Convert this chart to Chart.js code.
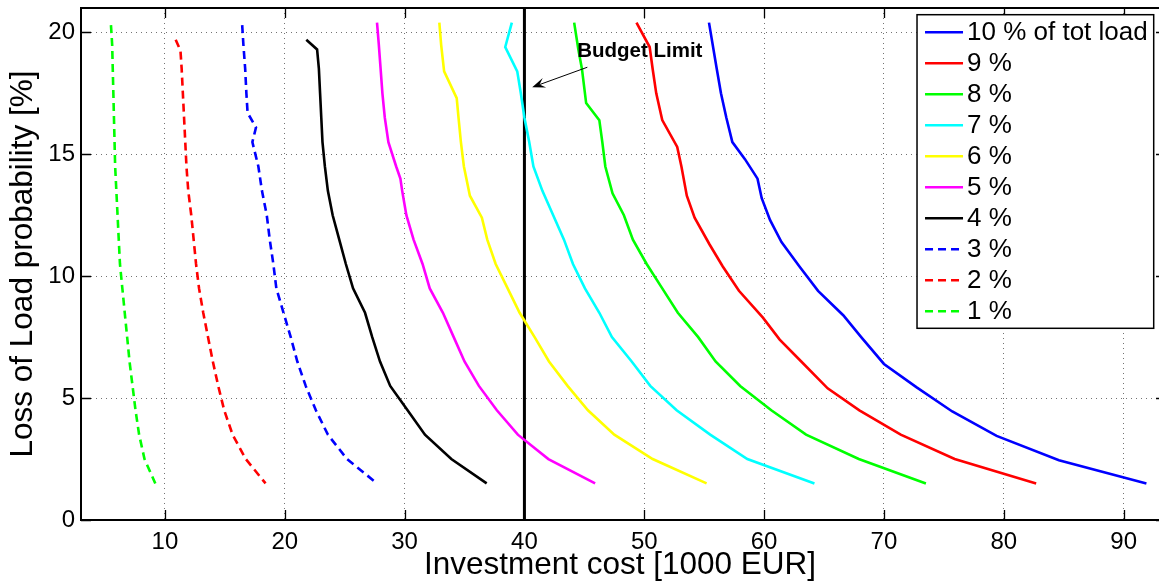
<!DOCTYPE html>
<html>
<head>
<meta charset="utf-8">
<script src="https://cdn.jsdelivr.net/npm/chart.js@4.4.0/dist/chart.umd.min.js"></script>
<style>
html,body{margin:0;padding:0;background:#fff;}
#wrap{width:1159px;height:584px;position:relative;overflow:hidden;}
</style>
</head>
<body>
<div id="wrap"><canvas id="c" width="1159" height="584"></canvas></div>
<script>
// ---------- data ----------
const seriesLabels = ['10 % of tot load','9 %','8 %','7 %','6 %','5 %','4 %','3 %','2 %','1 %'];
const seriesColors = ['#0000ff','#ff0000','#00ff00','#00ffff','#ffff00','#ff00ff','#000000','#0000ff','#ff0000','#00ff00'];
const seriesDashed = [false,false,false,false,false,false,false,true,true,true];

const cost10 = [55.4,56.05,56.4,56.85,57.35,58.4,59.45,59.8,60.5,61.45,62.95,64.5,66.6,68.1,70.0,72.7,75.7,79.4,84.6,91.9];
const lolp10 = [20.4,18.5,17.5,16.5,15.5,14.8,14.0,13.2,12.3,11.4,10.4,9.4,8.4,7.5,6.4,5.45,4.45,3.45,2.45,1.5];
const cost9 = [49.35,50.45,50.7,51.0,51.5,52.75,53.1,53.55,54.2,55.45,56.55,57.9,59.9,61.3,63.1,65.3,67.95,71.4,75.9,82.7];
const lolp9 = [20.4,19.4,18.5,17.5,16.4,15.3,14.5,13.3,12.4,11.3,10.4,9.4,8.3,7.4,6.5,5.4,4.5,3.5,2.5,1.5];
const cost8 = [44.15,44.5,44.8,45.15,46.25,46.5,46.75,47.35,48.3,49.05,50.2,51.5,52.8,54.5,55.95,58.0,60.6,63.5,67.9,73.5];
const lolp8 = [20.4,19.3,18.5,17.1,16.4,15.5,14.5,13.4,12.5,11.5,10.5,9.5,8.5,7.5,6.5,5.5,4.5,3.5,2.5,1.5];
const cost7 = [38.95,38.4,39.4,39.7,40.0,40.4,40.75,41.5,42.4,43.3,44.05,45.05,46.25,47.3,48.95,50.5,52.7,55.5,58.6,64.2];
const lolp7 = [20.4,19.4,18.4,17.5,16.5,15.5,14.5,13.5,12.5,11.5,10.5,9.5,8.5,7.5,6.5,5.5,4.5,3.5,2.5,1.5];
const cost6 = [32.9,33.05,33.3,34.35,34.5,34.7,34.95,35.45,36.45,36.9,37.6,38.6,39.6,40.85,42.05,43.6,45.3,47.5,50.7,55.2];
const lolp6 = [20.4,19.5,18.4,17.3,16.5,15.5,14.5,13.3,12.4,11.5,10.5,9.5,8.5,7.5,6.5,5.5,4.5,3.5,2.5,1.5];
const cost5 = [27.7,27.85,28.0,28.15,28.35,28.65,29.3,29.65,29.8,30.15,30.75,31.5,32.1,33.2,34.1,35.0,36.2,37.7,39.45,42.0,45.9];
const lolp5 = [20.4,19.5,18.5,17.5,16.5,15.5,14.5,14.0,13.5,12.5,11.5,10.5,9.5,8.5,7.5,6.5,5.5,4.5,3.5,2.5,1.5];
const cost4 = [21.8,22.7,22.85,22.95,23.05,23.15,23.35,23.6,24.0,24.55,25.1,25.7,26.7,27.3,27.95,28.8,30.25,31.7,33.9,36.85];
const lolp4 = [19.7,19.3,18.5,17.5,16.5,15.5,14.5,13.5,12.5,11.5,10.5,9.5,8.5,7.5,6.5,5.5,4.5,3.5,2.5,1.5];
const cost3 = [16.45,16.55,16.7,16.8,16.9,17.6,17.3,17.8,18.1,18.5,18.75,19.05,19.3,19.9,20.5,21.05,21.75,22.6,23.6,25.2,27.7];
const lolp3 = [20.3,19.5,18.5,17.5,16.7,16.1,15.5,14.5,13.5,12.5,11.5,10.5,9.5,8.5,7.5,6.5,5.5,4.5,3.5,2.5,1.5];
const cost2 = [10.9,11.3,11.4,11.5,11.6,11.7,11.8,11.95,12.2,12.4,12.6,12.85,13.2,13.6,14.0,14.45,14.95,15.65,16.75,18.4];
const lolp2 = [19.7,19.25,18.5,17.5,16.5,15.5,14.5,13.5,12.5,11.5,10.5,9.5,8.5,7.5,6.5,5.5,4.5,3.5,2.5,1.5];
const cost1 = [5.5,5.6,5.65,5.7,5.75,5.8,5.85,5.95,6.05,6.15,6.25,6.45,6.65,6.85,7.05,7.3,7.55,7.85,8.3,9.2];
const lolp1 = [20.3,19.5,18.5,17.5,16.5,15.5,14.5,13.5,12.5,11.5,10.5,9.5,8.5,7.5,6.5,5.5,4.5,3.5,2.5,1.5];

const seriesCost = [cost10,cost9,cost8,cost7,cost6,cost5,cost4,cost3,cost2,cost1];
const seriesLolp = [lolp10,lolp9,lolp8,lolp7,lolp6,lolp5,lolp4,lolp3,lolp2,lolp1];

const xTicks = [10,20,30,40,50,60,70,80,90];
const yTicks = [0,5,10,15,20];
const xMin = 3, xMax = 92.95, yMin = 0, yMax = 21;

const budgetX = 40;
const budgetText = 'Budget Limit';
const budgetTextPos = {x: 44.4, y: 19.0};
const arrowTail = {x: 45.25, y: 18.57};
const arrowTip = {x: 40.65, y: 17.75};

const xTitle = 'Investment cost [1000 EUR]';
const yTitle = 'Loss of Load probability [%]';

// ---------- chart ----------
const FONT = "'Liberation Sans', Arial, Helvetica, sans-serif";
const dashPattern = [8,5];

const datasets = seriesLabels.map((lab,i) => ({
  label: lab,
  data: seriesCost[i].map((c,k) => ({x: c, y: seriesLolp[i][k]})),
  borderColor: seriesColors[i],
  backgroundColor: seriesColors[i],
  borderWidth: 2.6,
  borderDash: seriesDashed[i] ? dashPattern : [],
  pointRadius: 0,
  showLine: true,
  tension: 0,
  fill: false
}));
datasets.push({
  label: '__budget',
  data: [{x: budgetX, y: yMin}, {x: budgetX, y: yMax}],
  borderColor: '#000',
  borderWidth: 3,
  pointRadius: 0,
  showLine: true,
  fill: false
});

const decor = {
  id: 'decor',
  afterDatasetsDraw(chart) {
    const ctx = chart.ctx, ca = chart.chartArea;
    const xs = chart.scales.x, ys = chart.scales.y;
    ctx.save();
    // frame (right side of the box lies just past the canvas edge)
    const frameRight = ca.right + 7;
    ctx.strokeStyle = '#000';
    ctx.lineWidth = 2;
    ctx.beginPath();
    ctx.moveTo(frameRight, ca.top);
    ctx.lineTo(ca.left, ca.top);
    ctx.lineTo(ca.left, ca.bottom);
    ctx.lineTo(frameRight, ca.bottom);
    ctx.stroke();
    // inward ticks
    ctx.lineWidth = 1.3;
    const tl = 10;
    ctx.beginPath();
    xTicks.forEach(v => {
      const p = Math.round(xs.getPixelForValue(v)) + 0.5;
      ctx.moveTo(p, ca.bottom); ctx.lineTo(p, ca.bottom - tl);
      ctx.moveTo(p, ca.top); ctx.lineTo(p, ca.top + tl);
    });
    yTicks.forEach(v => {
      const p = Math.round(ys.getPixelForValue(v)) + 0.5;
      ctx.moveTo(ca.left, p); ctx.lineTo(ca.left + tl, p);
      ctx.moveTo(frameRight, p); ctx.lineTo(frameRight - tl, p);
    });
    ctx.stroke();

    // annotation
    const tx = xs.getPixelForValue(arrowTail.x), ty = ys.getPixelForValue(arrowTail.y);
    const hx = xs.getPixelForValue(arrowTip.x), hy = ys.getPixelForValue(arrowTip.y);
    const ang = Math.atan2(hy - ty, hx - tx);
    const L = 13, W = 5;
    ctx.lineWidth = 1;
    ctx.beginPath();
    ctx.moveTo(tx, ty);
    ctx.lineTo(hx - Math.cos(ang)*L*0.6, hy - Math.sin(ang)*L*0.6);
    ctx.stroke();
    ctx.fillStyle = '#000';
    ctx.beginPath();
    ctx.moveTo(hx, hy);
    ctx.lineTo(hx - Math.cos(ang)*L + Math.sin(ang)*W, hy - Math.sin(ang)*L - Math.cos(ang)*W);
    ctx.lineTo(hx - Math.cos(ang)*L*0.6, hy - Math.sin(ang)*L*0.6);
    ctx.lineTo(hx - Math.cos(ang)*L - Math.sin(ang)*W, hy - Math.sin(ang)*L + Math.cos(ang)*W);
    ctx.closePath();
    ctx.fill();
    ctx.font = 'bold 20.5px ' + FONT;
    ctx.textBaseline = 'alphabetic';
    ctx.textAlign = 'left';
    ctx.fillText(budgetText, xs.getPixelForValue(budgetTextPos.x), ys.getPixelForValue(budgetTextPos.y));

    // legend
    const lfont = '26px ' + FONT;
    ctx.font = lfont;
    let maxW = 0;
    seriesLabels.forEach(l => { maxW = Math.max(maxW, ctx.measureText(l).width); });
    const padL = 8, sample = 38, gap = 4, padR = 6, rowH = 31, firstRow = 17.6;
    const boxRight = frameRight - 12.3;
    const boxW = padL + sample + gap + maxW + padR;
    const boxLeft = boxRight - boxW;
    const boxTop = ca.top + 6.7;
    const boxH = firstRow + rowH * (seriesLabels.length - 1) + 17;
    ctx.fillStyle = '#fff';
    ctx.fillRect(boxLeft, boxTop, boxW, boxH);
    ctx.strokeStyle = '#000';
    ctx.lineWidth = 1.5;
    ctx.strokeRect(boxLeft, boxTop, boxW, boxH);
    seriesLabels.forEach((l, i) => {
      const cy = boxTop + firstRow + i * rowH;
      ctx.strokeStyle = seriesColors[i];
      ctx.lineWidth = 2.6;
      ctx.setLineDash(seriesDashed[i] ? dashPattern : []);
      ctx.beginPath();
      ctx.moveTo(boxLeft + padL, cy);
      ctx.lineTo(boxLeft + padL + sample, cy);
      ctx.stroke();
      ctx.setLineDash([]);
      ctx.fillStyle = '#000';
      ctx.textBaseline = 'middle';
      ctx.fillText(l, boxLeft + padL + sample + gap, cy + 1);
    });
    ctx.restore();
  }
};

new Chart(document.getElementById('c'), {
  type: 'scatter',
  data: { datasets },
  options: {
    responsive: false,
    animation: false,
    devicePixelRatio: 1,
    layout: { padding: { top: 8, right: 0, left: 0, bottom: 0 } },
    plugins: { legend: { display: false }, tooltip: { enabled: false } },
    scales: {
      x: {
        type: 'linear',
        min: xMin, max: xMax,
        afterBuildTicks: s => { s.ticks = xTicks.map(v => ({value: v})); },
        afterFit: s => { s.height = 64; s.paddingLeft = 0; s.paddingRight = 0; s.paddingTop = 0; s.paddingBottom = 0; },
        grid: { color: 'rgba(0,0,0,0.55)', lineWidth: 1, drawTicks: false },
        border: { display: false, dash: [1,4] },
        ticks: { color: '#000', font: { family: FONT, size: 24 }, padding: 8, maxRotation: 0, autoSkip: false },
        title: { display: true, text: xTitle, color: '#000', font: { family: FONT, size: 31.5 }, padding: { top: 0, bottom: 0 } }
      },
      y: {
        type: 'linear',
        min: yMin, max: yMax,
        afterBuildTicks: s => { s.ticks = yTicks.map(v => ({value: v})); },
        afterFit: s => { s.width = 81; s.paddingLeft = 0; s.paddingRight = 0; s.paddingTop = 0; s.paddingBottom = 0; },
        grid: { color: 'rgba(0,0,0,0.55)', lineWidth: 1, drawTicks: false },
        border: { display: false, dash: [1,4] },
        ticks: { color: '#000', font: { family: FONT, size: 24 }, padding: 6, autoSkip: false },
        title: { display: true, text: yTitle, color: '#000', font: { family: FONT, size: 31.5 }, padding: { top: 4, bottom: 0 } }
      }
    }
  },
  plugins: [decor]
});
</script>
</body>
</html>
